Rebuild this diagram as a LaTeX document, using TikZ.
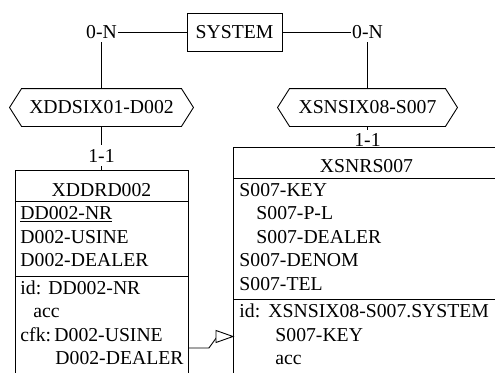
\documentclass[tikz,border=0pt]{standalone}
\usepackage{fontspec}
\setmainfont{Liberation Serif}
\usetikzlibrary{calc}
\begin{document}
\begin{tikzpicture}[x=1pt,y=-1pt,line width=0.9pt,
  every node/.style={font=\fontsize{19.7}{23.5}\selectfont},
  lbl/.style={fill=white,inner xsep=1pt,inner ysep=3.5pt},
  hexbox/.style={minimum height=37pt,inner sep=0pt},
  tbl/.style={draw,anchor=north west,inner sep=0pt},
  txt/.style={anchor=base west,inner sep=0pt},
  hdr/.style={anchor=base,inner sep=0pt}]
\useasboundingbox (0,0) rectangle (495,372);
\clip (0,0) rectangle (495,372);
% entity SYSTEM
\node[draw,minimum width=95pt,minimum height=38pt,inner sep=0pt] (sys) at (234.5,32) {SYSTEM};
% hexagons (roles)
\node[hexbox,minimum width=183pt] (h1) at (101.5,107.5) {XDDSIX01-D002};
\node[hexbox,minimum width=179pt] (h2) at (367.5,107.5) {XSNSIX08-S007};
\foreach \h in {h1,h2}{
  \draw (\h.west) -- ($(\h.north west)+(12,0)$) -- ($(\h.north east)+(-12,0)$) -- (\h.east)
        -- ($(\h.south east)+(-12,0)$) -- ($(\h.south west)+(12,0)$) -- cycle;
}
% tables
\coordinate (t1nw) at (15,170);
\coordinate (t2nw) at (233,147);
% connectors
\draw (h1.north) |- node[lbl,pos=0.5] (c1) {0-N} (sys.west);
\draw (h2.north) |- node[lbl,pos=0.5] (c2) {0-N} (sys.east);
\draw (h1.south) -- (h1.south |- t1nw);
\draw (h2.south) -- (h2.south |- t2nw);
\node[lbl,anchor=base] (r1) at (101.5,162) {1-1};
\node[lbl,anchor=base] (r2) at (367.5,146.5) {1-1};
% table XDDRD002
\node[tbl,fill=white,minimum width=173pt,minimum height=230pt] (t1) at (t1nw) {};
\draw (t1.west |- 0,201.5) -- (t1.east |- 0,201.5);
\draw (t1.west |- 0,276) -- (t1.east |- 0,276);
\node[hdr] (t1h) at (101.5,196) {XDDRD002};
\node[txt] at (20,219.5) {\underline{DD002-NR}};
\node[txt] at (20,243) {D002-USINE};
\node[txt] at (20,266.5) {D002-DEALER};
\node[txt] at (20,294) {id:};
\node[txt] at (48,294) {DD002-NR};
\node[txt] at (33,317.5) {acc};
\node[txt] at (20,341) {cfk:};
\node[txt] at (54,341) {D002-USINE};
\node[txt] at (55,364.5) {D002-DEALER};
% table XSNRS007
\node[tbl,fill=white,minimum width=267pt,minimum height=260pt] (t2) at (t2nw) {};
\draw (t2.west |- 0,178) -- (t2.east |- 0,178);
\draw (t2.west |- 0,299.5) -- (t2.east |- 0,299.5);
\node[hdr] (t2h) at (366.5,172.5) {XSNRS007};
\node[txt] at (239,196) {S007-KEY};
\node[txt] at (256,219.5) {S007-P-L};
\node[txt] at (256,243) {S007-DEALER};
\node[txt] at (239,266.5) {S007-DENOM};
\node[txt] at (239,290) {S007-TEL};
\node[txt] at (239,317.5) {id:};
\node[txt] at (268,317.5) {XSNSIX08-S007.SYSTEM};
\node[txt] at (275,341) {S007-KEY};
\node[txt] at (275,364.5) {acc};
% foreign key arrow
\draw (t1.east |- 0,348) -- ++(20,0) -- ++(8,-11);
\draw[fill=white] (t2.west |- 0,336.5) -- ++(-17,-6) -- ++(0,12) -- cycle;
\end{tikzpicture}
\end{document}
